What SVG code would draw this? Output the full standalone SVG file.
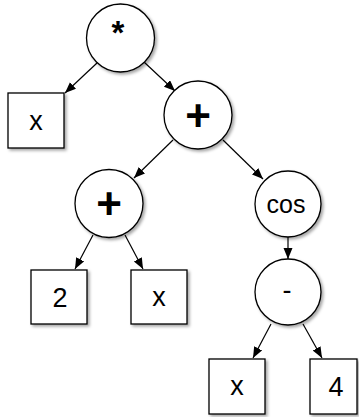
<svg xmlns="http://www.w3.org/2000/svg" width="359" height="417" viewBox="0 0 359 417">
  <defs>
    <filter id="shadow" x="-20%" y="-20%" width="150%" height="150%">
      <feDropShadow dx="2" dy="2" stdDeviation="1.5" flood-color="#000" flood-opacity="0.35"/>
    </filter>
    <marker id="arrow" markerUnits="userSpaceOnUse" markerWidth="12" markerHeight="10" refX="11" refY="4.5" orient="auto">
      <path d="M0,0 L11,4.5 L0,9 z" fill="#000"/>
    </marker>
  </defs>
  <style>
    .op { fill: #fff; stroke: #000; stroke-width: 1.3; filter: url(#shadow); }
    .leaf { fill: #fff; stroke: #000; stroke-width: 1.3; filter: url(#shadow); }
    .lbl { font-family: "Liberation Sans", Arial, sans-serif; font-size: 27px; fill: #000; text-anchor: middle; }
    .big { font-size: 44px; font-weight: bold; }
    .star { font-size: 33px; font-weight: bold; }
    .edge { stroke: #000; stroke-width: 1.2; fill: none; marker-end: url(#arrow); }
  </style>

  <g id="edges">
    <line class="edge" x1="97" y1="63" x2="65" y2="93"/>
    <line class="edge" x1="144" y1="62" x2="175" y2="91"/>
    <line class="edge" x1="173" y1="140" x2="134" y2="178"/>
    <line class="edge" x1="223" y1="140" x2="263" y2="179"/>
    <line class="edge" x1="93" y1="235" x2="75" y2="269"/>
    <line class="edge" x1="125" y1="235" x2="143" y2="269"/>
    <line class="edge" x1="288" y1="237" x2="288" y2="259"/>
    <line class="edge" x1="271" y1="324" x2="253" y2="358"/>
    <line class="edge" x1="303" y1="324" x2="322" y2="358"/>
  </g>

  <g id="mul">
    <circle class="op" cx="120.5" cy="38" r="34"/>
    <text class="lbl star" x="118" y="44">*</text>
  </g>
  <g id="x1">
    <rect class="leaf" x="8" y="93" width="56" height="55"/>
    <text class="lbl" x="36" y="130">x</text>
  </g>
  <g id="add1">
    <circle class="op" cx="198" cy="115" r="34"/>
    <text class="lbl big" x="198" y="130.5">+</text>
  </g>
  <g id="add2">
    <circle class="op" cx="109" cy="203.5" r="34"/>
    <text class="lbl big" x="109" y="219">+</text>
  </g>
  <g id="cos">
    <circle class="op" cx="288" cy="204" r="33"/>
    <text class="lbl" x="286" y="213" style="font-size:25px">cos</text>
  </g>
  <g id="two">
    <rect class="leaf" x="31" y="270" width="56" height="54"/>
    <text class="lbl" x="60" y="307">2</text>
  </g>
  <g id="x2">
    <rect class="leaf" x="131" y="270" width="56" height="54"/>
    <text class="lbl" x="159" y="306">x</text>
  </g>
  <g id="sub">
    <circle class="op" cx="288" cy="292" r="33"/>
    <text class="lbl" x="287" y="299">-</text>
  </g>
  <g id="x3">
    <rect class="leaf" x="209" y="359" width="56" height="55"/>
    <text class="lbl" x="237" y="395">x</text>
  </g>
  <g id="four">
    <rect class="leaf" x="310" y="359" width="47" height="55"/>
    <text class="lbl" x="336" y="396">4</text>
  </g>
</svg>
